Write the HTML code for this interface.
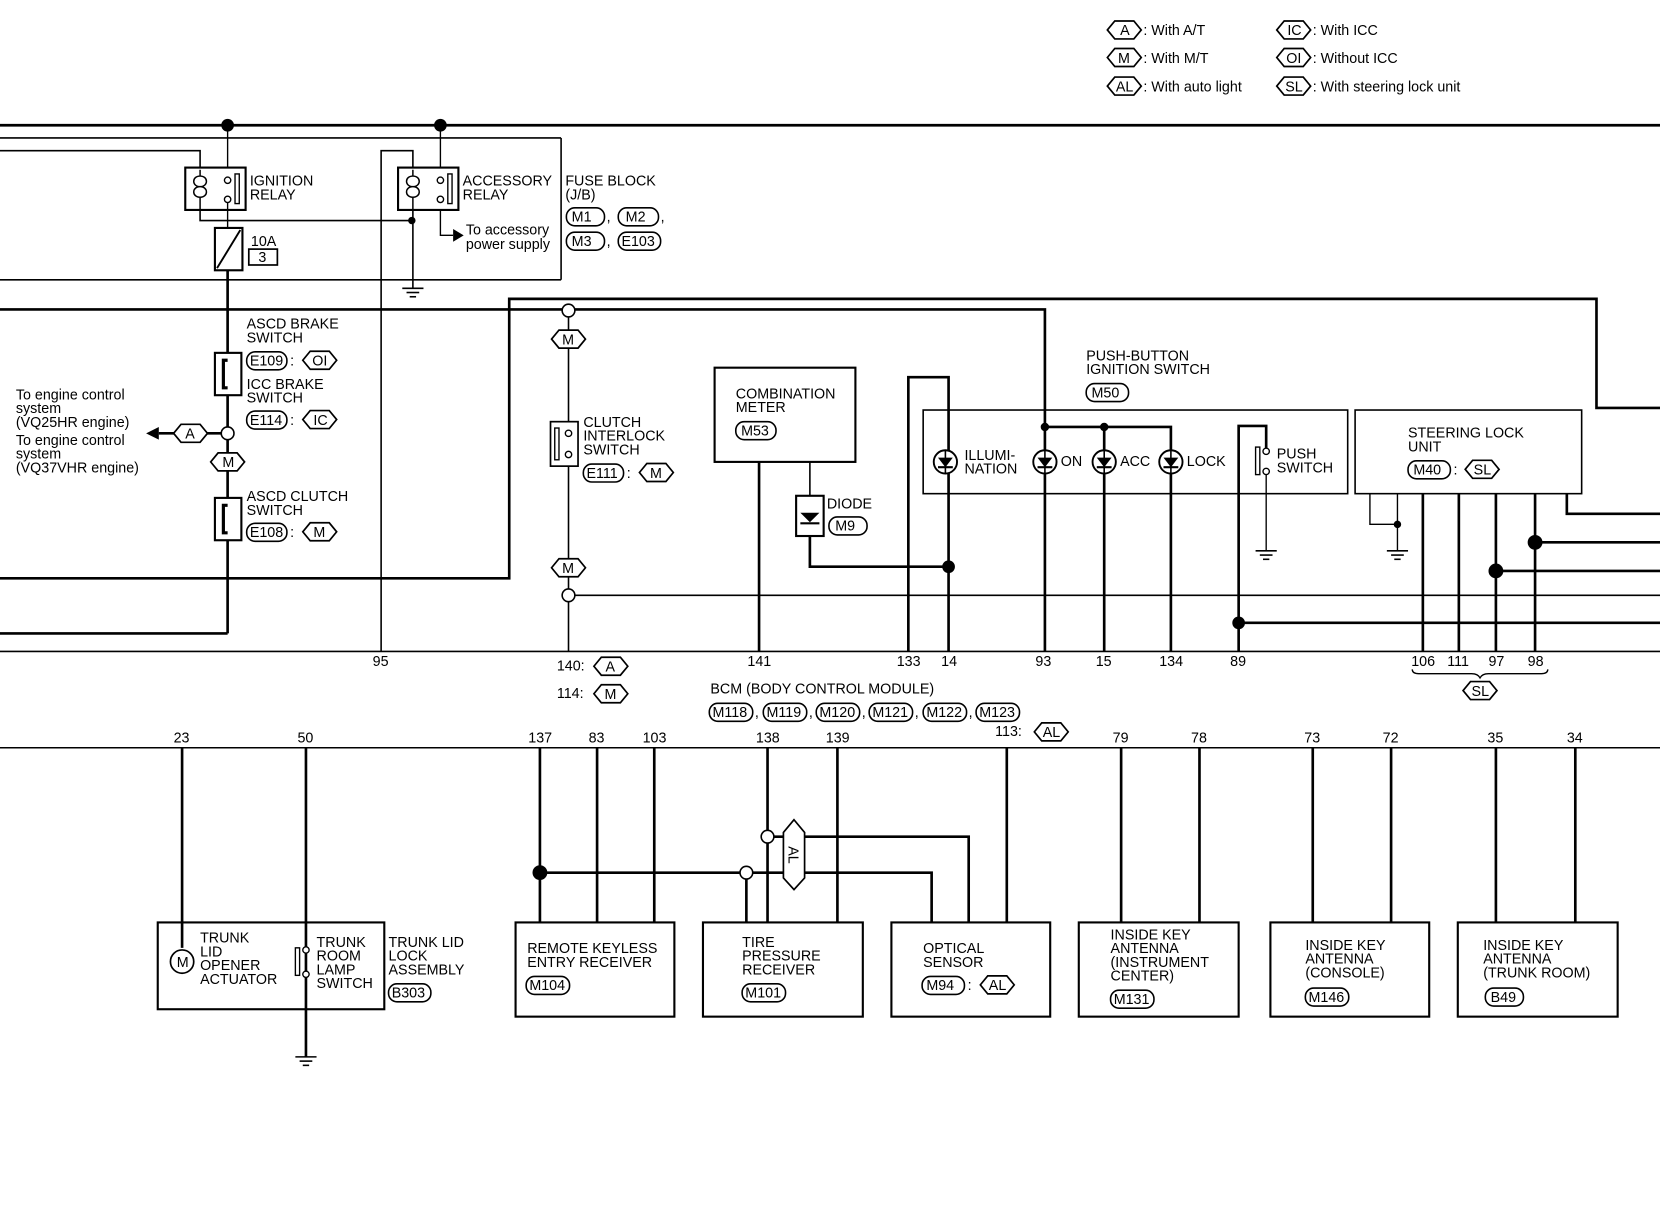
<!DOCTYPE html>
<html><head><meta charset="utf-8"><style>
html,body{margin:0;padding:0;background:#fff;}
svg{display:block;}
text{font-family:"Liberation Sans",sans-serif;font-size:13.5px;fill:#000;}
</style></head><body>
<svg width="1660" height="1216" viewBox="0 0 1568 1148" xmlns="http://www.w3.org/2000/svg">
<defs>
<g id="hx"><polygon points="-16,0 -9,-8.5 9,-8.5 16,0 9,8.5 -9,8.5" fill="#fff" stroke="#000" stroke-width="1.6"/></g>
<g id="dio"><circle r="11" fill="#fff" stroke="#000" stroke-width="1.8"/><polygon points="-7,-4 7,-4 0,5" fill="#000"/><line x1="-7" y1="5" x2="7" y2="5" stroke="#000" stroke-width="2"/><line x1="0" y1="-11" x2="0" y2="11" stroke="#000" stroke-width="1.5"/></g>
<g id="gnd" stroke="#000" stroke-width="1.5"><line x1="-10" y1="0" x2="10" y2="0"/><line x1="-6" y1="4" x2="6" y2="4"/><line x1="-3" y1="8" x2="3" y2="8"/></g>
</defs>
<g fill="none" stroke="#000">
<!-- legend -->
<use href="#hx" x="1062" y="28"/><use href="#hx" x="1062" y="54"/><use href="#hx" x="1062" y="81"/>
<use href="#hx" x="1222" y="28"/><use href="#hx" x="1222" y="54"/><use href="#hx" x="1222" y="81"/>
<!-- top bus -->
<line x1="0" y1="118" x2="1568" y2="118" stroke-width="2.5"/>
<line x1="0" y1="130" x2="530" y2="130" stroke-width="1.5"/>
<line x1="530" y1="130" x2="530" y2="264" stroke-width="1.5"/>
<line x1="0" y1="264" x2="530" y2="264" stroke-width="1.5"/>
<line x1="215" y1="118" x2="215" y2="158" stroke-width="1.3"/>
<line x1="416" y1="118" x2="416" y2="158" stroke-width="1.3"/>
<polyline points="0,142 189,142 189,158" stroke-width="1.5"/>
<polyline points="360,615 360,142 390,142 390,158" stroke-width="1.5"/>
<!-- relays -->
<rect x="175" y="158" width="57" height="40" stroke-width="2"/>
<rect x="376" y="158" width="57" height="40" stroke-width="2"/>
<polyline points="189,198 189,208 389,208" stroke-width="1.5"/>
<line x1="390" y1="198" x2="390" y2="272" stroke-width="1.5"/>
<polyline points="416,198 416,222 428,222" stroke-width="1.3"/>
<line x1="215" y1="190" x2="215" y2="215" stroke-width="1.3"/>
<rect x="203" y="215" width="26" height="40" stroke-width="2"/>
<line x1="205" y1="253" x2="227" y2="217" stroke-width="1.8"/>
<rect x="235" y="235" width="27" height="15" stroke-width="1.6"/>
<line x1="215" y1="255" x2="215" y2="598" stroke-width="2.5"/>
<polyline points="0,598 215,598" stroke-width="2.5"/>
<!-- relay internals -->
<path d="M189,160 v6 c-8,0 -8,10 0,10 c-8,0 -8,10 0,10 v12 M189,166 c8,0 8,10 0,10 c8,0 8,10 0,10" stroke-width="1.4"/>
<path d="M390,160 v6 c-8,0 -8,10 0,10 c-8,0 -8,10 0,10 v12 M390,166 c8,0 8,10 0,10 c8,0 8,10 0,10" stroke-width="1.4"/>
<circle cx="215" cy="170" r="3" stroke-width="1.3" fill="#fff"/><circle cx="215" cy="188" r="3" stroke-width="1.3" fill="#fff"/>
<rect x="222" y="164" width="4" height="28" stroke-width="1.3"/>
<circle cx="416" cy="170" r="3" stroke-width="1.3" fill="#fff"/><circle cx="416" cy="188" r="3" stroke-width="1.3" fill="#fff"/>
<rect x="423" y="164" width="4" height="28" stroke-width="1.3"/>
<!-- switches left -->
<rect x="203" y="333" width="25" height="40" stroke-width="2" fill="#fff"/>
<path d="M215,340 h-4 v26 h4" stroke-width="3"/>
<rect x="203" y="470" width="25" height="40" stroke-width="2" fill="#fff"/>
<path d="M215,477 h-4 v26 h4" stroke-width="3"/>
<line x1="150" y1="409" x2="210" y2="409" stroke-width="2.5"/>
<use href="#hx" x="180" y="409"/>
<use href="#hx" x="215" y="436"/>
<circle cx="215" cy="409" r="6" fill="#fff" stroke-width="1.5"/>
<!-- big lines -->
<polyline points="0,292 987,292 987,615" stroke-width="2.5"/>
<polyline points="0,546 481,546 481,282 1508,282 1508,385 1568,385" stroke-width="2.5"/>
<line x1="537" y1="293" x2="537" y2="615" stroke-width="1.5"/>
<line x1="537" y1="562" x2="1568" y2="562" stroke-width="1.5"/>
<use href="#hx" x="537" y="320"/><use href="#hx" x="537" y="536"/>
<circle cx="537" cy="293" r="6" fill="#fff" stroke-width="1.5"/>
<circle cx="537" cy="562" r="6" fill="#fff" stroke-width="1.5"/>
<rect x="520" y="398" width="26" height="42" stroke-width="1.6" fill="#fff"/>
<rect x="524" y="404" width="4" height="30" stroke-width="1.3"/>
<circle cx="537" cy="409" r="3" stroke-width="1.3" fill="#fff"/><circle cx="537" cy="429" r="3" stroke-width="1.3" fill="#fff"/>
<!-- combination meter -->
<rect x="675" y="347" width="133" height="89" stroke-width="2"/>
<line x1="717" y1="436" x2="717" y2="615" stroke-width="2.5"/>
<line x1="765" y1="436" x2="765" y2="468" stroke-width="1.5"/>
<rect x="752" y="468" width="26" height="38" stroke-width="2"/>
<polyline points="765,506 765,535 896,535" stroke-width="2.5"/>
<polyline points="858,615 858,356 896,356 896,615" stroke-width="2.5"/>
<!-- push button -->
<rect x="872" y="387" width="401" height="79" stroke-width="1.5"/>
<polyline points="987,403 1106,403 1106,615" stroke-width="2.5"/>
<line x1="1043" y1="403" x2="1043" y2="615" stroke-width="2.5"/>
<polyline points="1170,615 1170,402 1196,402 1196,425" stroke-width="2.5"/>
<line x1="1196" y1="445" x2="1196" y2="520" stroke-width="1.3"/>
<rect x="1186" y="422" width="4" height="26" stroke-width="1.3"/>
<circle cx="1196" cy="426" r="3" stroke-width="1.3" fill="#fff"/><circle cx="1196" cy="445" r="3" stroke-width="1.3" fill="#fff"/>
<line x1="1170" y1="588" x2="1568" y2="588" stroke-width="2.5"/>
<!-- steering lock -->
<rect x="1280" y="387" width="214" height="79" stroke-width="1.5"/>
<polyline points="1294,466 1294,495 1320,495" stroke-width="1.3"/>
<line x1="1320" y1="466" x2="1320" y2="520" stroke-width="1.3"/>
<line x1="1344" y1="466" x2="1344" y2="615" stroke-width="2.5"/>
<line x1="1378" y1="466" x2="1378" y2="615" stroke-width="2.5"/>
<line x1="1413" y1="466" x2="1413" y2="615" stroke-width="2.5"/>
<line x1="1450" y1="466" x2="1450" y2="615" stroke-width="2.5"/>
<line x1="1413" y1="539" x2="1568" y2="539" stroke-width="2.5"/>
<line x1="1450" y1="512" x2="1568" y2="512" stroke-width="2.5"/>
<polyline points="1480,466 1480,485 1568,485" stroke-width="2.5"/>
<path d="M1334,632 q0,4 6,4 h50 q6,0 8,4 q2,-4 8,-4 h50 q6,0 6,-4" stroke-width="1.3"/>
<use href="#hx" x="1398" y="652"/>
<!-- BCM lines -->
<line x1="0" y1="615" x2="1568" y2="615" stroke-width="1.5"/>
<line x1="0" y1="706" x2="1568" y2="706" stroke-width="1.5"/>
<use href="#hx" x="577" y="629"/><use href="#hx" x="577" y="655"/><use href="#hx" x="993" y="691"/>
<!-- lower -->
<line x1="172" y1="706" x2="172" y2="895" stroke-width="2.5"/>
<line x1="289" y1="706" x2="289" y2="998" stroke-width="2.5"/>
<rect x="149" y="871" width="214" height="82" stroke-width="2" fill="none"/>
<circle cx="172" cy="908" r="11" stroke-width="1.6" fill="#fff"/>
<rect x="279" y="895" width="4" height="26" stroke-width="1.3"/>
<circle cx="289" cy="897" r="3" stroke-width="1.3" fill="#fff"/><circle cx="289" cy="920" r="3" stroke-width="1.3" fill="#fff"/>
<rect x="487" y="871" width="150" height="89" stroke-width="2"/>
<rect x="664" y="871" width="151" height="89" stroke-width="2"/>
<rect x="842" y="871" width="150" height="89" stroke-width="2"/>
<rect x="1019" y="871" width="151" height="89" stroke-width="2"/>
<rect x="1200" y="871" width="150" height="89" stroke-width="2"/>
<rect x="1377" y="871" width="151" height="89" stroke-width="2"/>
<g stroke-width="2.5">
<line x1="510" y1="706" x2="510" y2="871"/><line x1="564" y1="706" x2="564" y2="871"/><line x1="618" y1="706" x2="618" y2="871"/>
<line x1="725" y1="706" x2="725" y2="871"/><line x1="791" y1="706" x2="791" y2="871"/>
<line x1="705" y1="824" x2="705" y2="871"/>
<polyline points="510,824 880,824 880,871"/>
<polyline points="725,790 915,790 915,871"/>
<line x1="951" y1="706" x2="951" y2="871"/>
<line x1="1059" y1="706" x2="1059" y2="871"/><line x1="1133" y1="706" x2="1133" y2="871"/>
<line x1="1240" y1="706" x2="1240" y2="871"/><line x1="1314" y1="706" x2="1314" y2="871"/>
<line x1="1413" y1="706" x2="1413" y2="871"/><line x1="1488" y1="706" x2="1488" y2="871"/>
</g>
<polygon points="750,774 760,786 760,829 750,840 740,829 740,786" fill="#fff" stroke-width="1.6"/>
<circle cx="705" cy="824" r="6" fill="#fff" stroke-width="1.5"/>
<circle cx="725" cy="790" r="6" fill="#fff" stroke-width="1.5"/>
<!-- connector boxes -->
<g stroke-width="1.5" fill="#fff">
<rect x="535" y="196" width="36" height="17" rx="8"/><rect x="584" y="196" width="38" height="17" rx="8"/>
<rect x="535" y="219" width="36" height="17" rx="8"/><rect x="584" y="219" width="40" height="17" rx="8"/>
<rect x="233" y="332" width="38" height="17" rx="8"/><rect x="233" y="388" width="38" height="17" rx="8"/><rect x="233" y="494" width="38" height="17" rx="8"/>
<rect x="551" y="438" width="38" height="17" rx="8"/>
<rect x="695" y="398" width="38" height="17" rx="8"/><rect x="783" y="488" width="36" height="17" rx="8"/>
<rect x="1026" y="362" width="40" height="17" rx="8"/><rect x="1330" y="435" width="40" height="17" rx="8"/>
<rect x="670" y="664" width="41" height="17" rx="8"/><rect x="721" y="664" width="41" height="17" rx="8"/><rect x="771" y="664" width="41" height="17" rx="8"/>
<rect x="821" y="664" width="41" height="17" rx="8"/><rect x="872" y="664" width="41" height="17" rx="8"/><rect x="922" y="664" width="41" height="17" rx="8"/>
<rect x="367" y="929" width="40" height="17" rx="8"/><rect x="497" y="922" width="41" height="17" rx="8"/><rect x="701" y="929" width="41" height="17" rx="8"/>
<rect x="871" y="922" width="40" height="17" rx="8"/><rect x="1049" y="935" width="41" height="17" rx="8"/><rect x="1233" y="933" width="41" height="17" rx="8"/><rect x="1403" y="933" width="36" height="17" rx="8"/>
</g>
<use href="#hx" x="302" y="340"/><use href="#hx" x="302" y="396"/><use href="#hx" x="302" y="502"/>
<use href="#hx" x="620" y="446"/><use href="#hx" x="1400" y="443"/><use href="#hx" x="942" y="930"/>
</g>
<!-- filled items -->
<g fill="#000">
<circle cx="215" cy="118" r="6"/><circle cx="416" cy="118" r="6"/><circle cx="389" cy="208" r="3.5"/>
<polygon points="428,216 438,222 428,228"/>
<polygon points="138,409 150,403 150,415"/>
<polygon points="756,484 774,484 765,493"/><rect x="756" y="493" width="18" height="2"/>
<circle cx="896" cy="535" r="6"/><circle cx="987" cy="403" r="4"/><circle cx="1043" cy="403" r="4"/>
<circle cx="1170" cy="588" r="6"/><circle cx="1320" cy="495" r="3.5"/><circle cx="1413" cy="539" r="7"/><circle cx="1450" cy="512" r="7"/>
<circle cx="510" cy="824" r="7"/>
</g>
<use href="#gnd" x="390" y="272"/><use href="#gnd" x="1196" y="520"/><use href="#gnd" x="1320" y="520"/><use href="#gnd" x="289" y="998"/>
<use href="#dio" x="893" y="436"/><use href="#dio" x="987" y="436"/><use href="#dio" x="1043" y="436"/><use href="#dio" x="1106" y="436"/>
<!-- text -->
<g>
<text x="1058" y="33">A</text><text x="1080" y="33">: With A/T</text>
<text x="1056" y="59">M</text><text x="1080" y="59">: With M/T</text>
<text x="1054" y="86">AL</text><text x="1080" y="86">: With auto light</text>
<text x="1216" y="33">IC</text><text x="1240" y="33">: With ICC</text>
<text x="1215" y="59">OI</text><text x="1240" y="59">: Without ICC</text>
<text x="1214" y="86">SL</text><text x="1240" y="86">: With steering lock unit</text>
<text x="236" y="175">IGNITION</text><text x="236" y="188">RELAY</text>
<text x="437" y="175">ACCESSORY</text><text x="437" y="188">RELAY</text>
<text x="534" y="175">FUSE BLOCK</text><text x="534" y="188">(J/B)</text>
<text x="540" y="209" font-size="12">M1</text><text x="573" y="209">,</text><text x="591" y="209" font-size="12">M2</text><text x="624" y="209">,</text>
<text x="540" y="232" font-size="12">M3</text><text x="573" y="232">,</text><text x="587" y="232" font-size="12">E103</text>
<text x="440" y="221">To accessory</text><text x="440" y="235">power supply</text>
<text x="237" y="232">10A</text><text x="244" y="247" font-size="12">3</text>
<text x="233" y="310">ASCD BRAKE</text><text x="233" y="323">SWITCH</text>
<text x="236" y="345" font-size="12">E109</text><text x="274" y="345">:</text><text x="295" y="345" font-size="12">OI</text>
<text x="233" y="367">ICC BRAKE</text><text x="233" y="380">SWITCH</text>
<text x="236" y="401" font-size="12">E114</text><text x="274" y="401">:</text><text x="296" y="401" font-size="12">IC</text>
<text x="233" y="473">ASCD CLUTCH</text><text x="233" y="486">SWITCH</text>
<text x="236" y="507" font-size="12">E108</text><text x="274" y="507">:</text><text x="296" y="507" font-size="12">M</text>
<text x="15" y="377">To engine control</text><text x="15" y="390">system</text><text x="15" y="403">(VQ25HR engine)</text>
<text x="15" y="420">To engine control</text><text x="15" y="433">system</text><text x="15" y="446">(VQ37VHR engine)</text>
<text x="175" y="414" font-size="12">A</text><text x="210" y="441" font-size="12">M</text>
<text x="531" y="325" font-size="12">M</text><text x="531" y="541" font-size="12">M</text>
<text x="551" y="403">CLUTCH</text><text x="551" y="416">INTERLOCK</text><text x="551" y="429">SWITCH</text>
<text x="554" y="451" font-size="12">E111</text><text x="592" y="451">:</text><text x="614" y="451" font-size="12">M</text>
<text x="695" y="376">COMBINATION</text><text x="695" y="389">METER</text><text x="700" y="411" font-size="12">M53</text>
<text x="781" y="480">DIODE</text><text x="789" y="501" font-size="12">M9</text>
<text x="1026" y="340">PUSH-BUTTON</text><text x="1026" y="353">IGNITION SWITCH</text><text x="1031" y="375" font-size="12">M50</text>
<text x="911" y="434">ILLUMI-</text><text x="911" y="447">NATION</text>
<text x="1002" y="440">ON</text><text x="1058" y="440">ACC</text><text x="1121" y="440">LOCK</text>
<text x="1206" y="433">PUSH</text><text x="1206" y="446">SWITCH</text>
<text x="1330" y="413">STEERING LOCK</text><text x="1330" y="426">UNIT</text>
<text x="1335" y="448" font-size="12">M40</text><text x="1373" y="448">:</text><text x="1392" y="448" font-size="12">SL</text>
<text x="352" y="629" font-size="12.5">95</text>
<text x="526" y="633" font-size="12.5">140:</text><text x="572" y="634" font-size="12">A</text>
<text x="526" y="659" font-size="12.5">114:</text><text x="571" y="660" font-size="12">M</text>
<text x="706" y="629" font-size="12.5">141</text><text x="847" y="629" font-size="12.5">133</text><text x="889" y="629" font-size="12.5">14</text>
<text x="978" y="629" font-size="12.5">93</text><text x="1035" y="629" font-size="12.5">15</text><text x="1095" y="629" font-size="12.5">134</text><text x="1162" y="629" font-size="12.5">89</text>
<text x="1333" y="629" font-size="12.5">106</text><text x="1367" y="629" font-size="12.5">111</text><text x="1406" y="629" font-size="12.5">97</text><text x="1443" y="629" font-size="12.5">98</text>
<text x="1390" y="657" font-size="12">SL</text>
<text x="671" y="655">BCM (BODY CONTROL MODULE)</text>
<text x="673" y="677" font-size="12">M118</text><text x="713" y="677">,</text><text x="724" y="677" font-size="12">M119</text><text x="764" y="677">,</text>
<text x="774" y="677" font-size="12">M120</text><text x="814" y="677">,</text><text x="824" y="677" font-size="12">M121</text><text x="864" y="677">,</text>
<text x="875" y="677" font-size="12">M122</text><text x="915" y="677">,</text><text x="925" y="677" font-size="12">M123</text>
<text x="940" y="695" font-size="12.5">113:</text><text x="985" y="696" font-size="12">AL</text>
<g font-size="12.5">
<text x="164" y="701">23</text><text x="281" y="701">50</text><text x="499" y="701">137</text><text x="556" y="701">83</text><text x="607" y="701">103</text>
<text x="714" y="701">138</text><text x="780" y="701">139</text><text x="1051" y="701">79</text><text x="1125" y="701">78</text>
<text x="1232" y="701">73</text><text x="1306" y="701">72</text><text x="1405" y="701">35</text><text x="1480" y="701">34</text>
</g>
<text x="167" y="913" font-size="14">M</text>
<text x="189" y="890">TRUNK</text><text x="189" y="903">LID</text><text x="189" y="916">OPENER</text><text x="189" y="929">ACTUATOR</text>
<text x="299" y="894">TRUNK</text><text x="299" y="907">ROOM</text><text x="299" y="920">LAMP</text><text x="299" y="933">SWITCH</text>
<text x="367" y="894">TRUNK LID</text><text x="367" y="907">LOCK</text><text x="367" y="920">ASSEMBLY</text><text x="370" y="942" font-size="12">B303</text>
<text x="498" y="900">REMOTE KEYLESS</text><text x="498" y="913">ENTRY RECEIVER</text><text x="500" y="935" font-size="12">M104</text>
<text x="701" y="894">TIRE</text><text x="701" y="907">PRESSURE</text><text x="701" y="920">RECEIVER</text><text x="704" y="942" font-size="12">M101</text>
<text x="872" y="900">OPTICAL</text><text x="872" y="913">SENSOR</text><text x="875" y="935" font-size="12">M94</text><text x="914" y="935">:</text><text x="934" y="935" font-size="12">AL</text>
<text x="1049" y="887">INSIDE KEY</text><text x="1049" y="900">ANTENNA</text><text x="1049" y="913">(INSTRUMENT</text><text x="1049" y="926">CENTER)</text><text x="1052" y="948" font-size="12">M131</text>
<text x="1233" y="897">INSIDE KEY</text><text x="1233" y="910">ANTENNA</text><text x="1233" y="923">(CONSOLE)</text><text x="1236" y="946" font-size="12">M146</text>
<text x="1401" y="897">INSIDE KEY</text><text x="1401" y="910">ANTENNA</text><text x="1401" y="923">(TRUNK ROOM)</text><text x="1408" y="946" font-size="12">B49</text>
<text transform="translate(745,799) rotate(90)" font-size="12">AL</text>
</g>
</svg>
</body></html>
